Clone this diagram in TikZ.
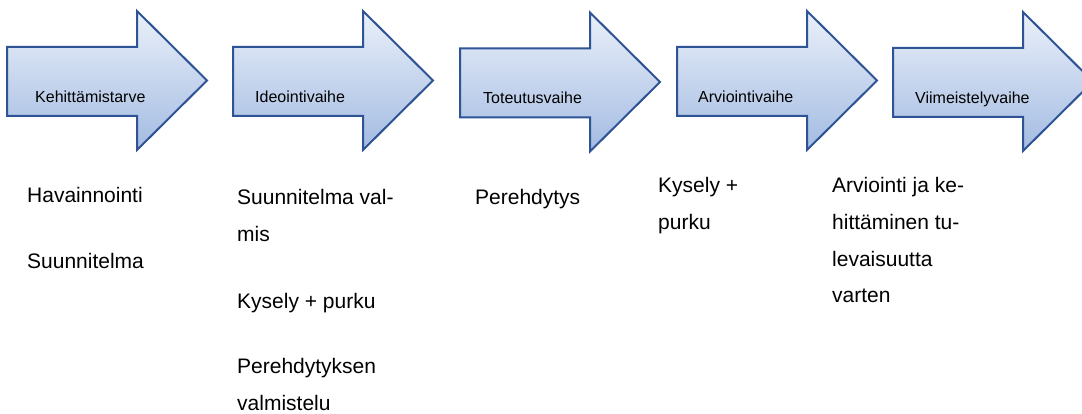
\documentclass[tikz,border=0pt]{standalone}
\usepackage{fontspec}
\setmainfont{Liberation Sans}
\definecolor{arrowline}{HTML}{2F5496}
\definecolor{arrowtop}{HTML}{EAF0F9}
\definecolor{arrowbot}{HTML}{A3BBE2}
\tikzset{
  phase/.style={draw=arrowline, line width=2pt, line join=miter, top color=arrowtop, bottom color=arrowbot},
  plabel/.style={anchor=base west, inner sep=0pt, font=\fontsize{16}{19}\selectfont},
  body/.style={anchor=base west, inner sep=0pt, font=\fontsize{21}{25}\selectfont},
}
\newcommand{\phasearrow}[2]{%
  \path[phase] (#1,47+#2) -- (#1+130,47+#2) -- (#1+130,11+#2) -- (#1+200,80.5+#2)
    -- (#1+130,150+#2) -- (#1+130,116+#2) -- (#1,116+#2) -- cycle;}
\begin{document}
\begin{tikzpicture}[x=1pt,y=-1pt]
\useasboundingbox (0,0) rectangle (1082,414);
\clip (0,0) rectangle (1082,414);
\fill[white] (0,0) rectangle (1082,414);
% arrows
\phasearrow{7}{0}
\phasearrow{233}{0}
\phasearrow{460}{1.5}
\phasearrow{677}{0}
\phasearrow{893}{1}
% arrow labels
\node[plabel] (l1) at (35,103) {Kehittämistarve};
\node[plabel] (l2) at (255,102.5) {Ideointivaihe};
\node[plabel] (l3) at (483,103.5) {Toteutusvaihe};
\node[plabel] (l4) at (698,102.5) {Arviointivaihe};
\node[plabel] (l5) at (915,104) {Viimeistelyvaihe};
% column 1
\node[body] (c1a) at (27,203) {Havainnointi};
\node[body] (c1b) at (27,269) {Suunnitelma};
% column 2
\node[body] (c2a) at (237,205) {Suunnitelma val-};
\node[body] (c2b) at (237,242) {mis};
\node[body] (c2c) at (237,308) {Kysely + purku};
\node[body] (c2d) at (237,373) {Perehdytyksen};
\node[body] (c2e) at (237,410) {valmistelu};
% column 3
\node[body] (c3a) at (475,205) {Perehdytys};
% column 4
\node[body] (c4a) at (658,193) {Kysely +};
\node[body] (c4b) at (658,230) {purku};
% column 5
\node[body] (c5a) at (832,193) {Arviointi ja ke-};
\node[body] (c5b) at (832,230) {hittäminen tu-};
\node[body] (c5c) at (832,266) {levaisuutta};
\node[body] (c5d) at (832,302) {varten};
\end{tikzpicture}
\end{document}
